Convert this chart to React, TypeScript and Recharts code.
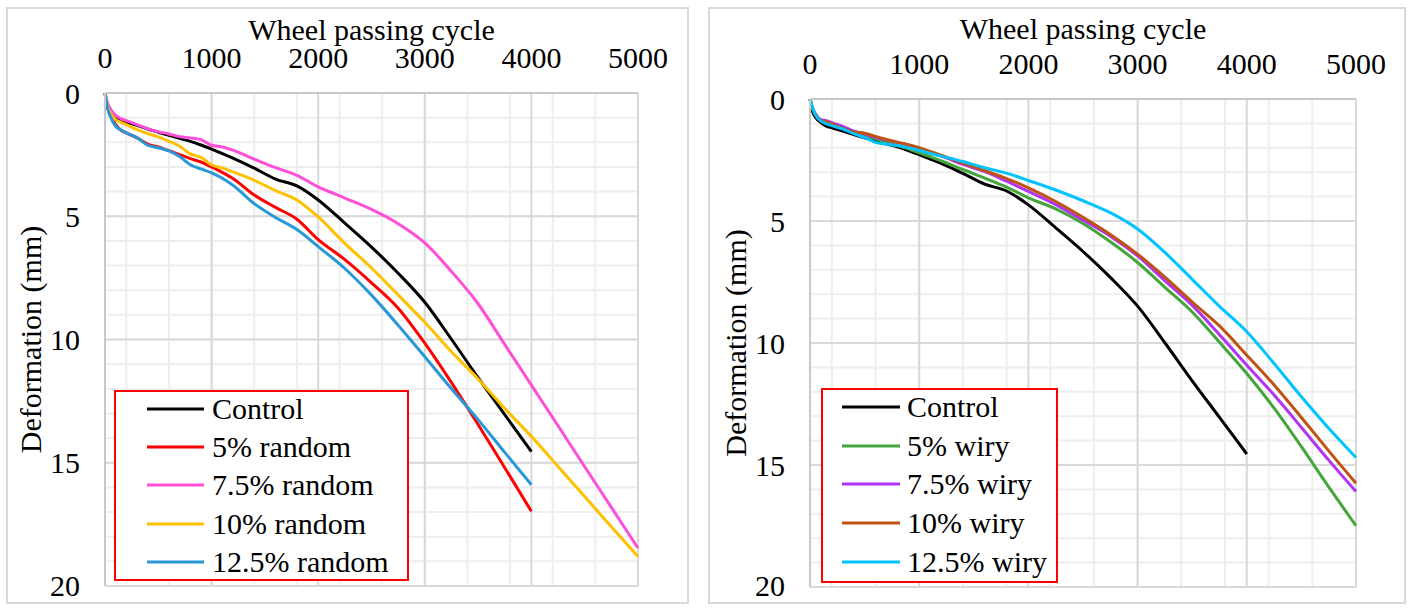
import React from 'react';
import { LineChart, Line, XAxis, YAxis, CartesianGrid, Legend, Label } from 'recharts';

// wheel passing cycles shared by every series
const cycles = [0, 25, 50, 100, 150, 200, 300, 400, 500, 600, 700, 800, 900, 1000, 1100, 1200, 1400, 1600, 1800, 2000, 2250, 2500, 2750, 3000, 3250, 3500, 3750, 4000, 4250, 4500, 4750, 5000];

// deformation (mm)
const control = [0, 0.54, 0.74, 0.97, 1.11, 1.18, 1.31, 1.46, 1.59, 1.72, 1.84, 1.96, 2.11, 2.28, 2.46, 2.64, 3.05, 3.49, 3.77, 4.34, 5.28, 6.25, 7.31, 8.49, 9.99, 11.55, 13.05, 14.55, null, null, null, null];
const random5 = [0, 0.61, 0.88, 1.28, 1.51, 1.62, 1.82, 2.07, 2.19, 2.34, 2.5, 2.66, 2.8, 3.0, 3.22, 3.47, 4.14, 4.64, 5.12, 5.95, 6.76, 7.7, 8.73, 10.15, 11.75, 13.45, 15.2, 16.97, null, null, null, null];
const random75 = [0, 0.41, 0.64, 0.91, 1.04, 1.12, 1.28, 1.45, 1.57, 1.66, 1.77, 1.82, 1.89, 2.12, 2.19, 2.32, 2.68, 3.03, 3.34, 3.81, 4.26, 4.72, 5.3, 6.08, 7.24, 8.55, 10.2, 11.85, 13.5, 15.16, 16.81, 18.46];
const random10 = [0, 0.54, 0.81, 1.08, 1.19, 1.28, 1.49, 1.65, 1.78, 1.96, 2.16, 2.47, 2.61, 2.92, 3.04, 3.2, 3.54, 3.96, 4.34, 5.03, 6.1, 7.1, 8.19, 9.3, 10.5, 11.6, 12.8, 13.93, 15.15, 16.37, 17.6, 18.8];
const random125 = [0, 0.64, 0.95, 1.35, 1.5, 1.62, 1.81, 2.12, 2.22, 2.35, 2.58, 2.91, 3.08, 3.24, 3.46, 3.74, 4.49, 5.05, 5.54, 6.23, 7.12, 8.2, 9.42, 10.7, 12.0, 13.25, 14.58, 15.89, null, null, null, null];

const wiry5 = [0, 0.41, 0.67, 0.87, 0.97, 1.02, 1.2, 1.38, 1.5, 1.63, 1.77, 1.91, 2.04, 2.21, 2.36, 2.53, 2.89, 3.24, 3.61, 4.05, 4.5, 5.1, 5.85, 6.7, 7.72, 8.73, 9.97, 11.25, 12.67, 14.25, 15.9, 17.49];
const wiry75 = [0, 0.41, 0.62, 0.85, 0.89, 0.97, 1.12, 1.31, 1.44, 1.57, 1.68, 1.78, 1.89, 2.07, 2.21, 2.34, 2.68, 2.98, 3.37, 3.79, 4.33, 4.97, 5.62, 6.43, 7.45, 8.46, 9.66, 10.91, 12.13, 13.46, 14.8, 16.09];
const wiry10 = [0, 0.41, 0.62, 0.87, 0.95, 1.02, 1.2, 1.35, 1.4, 1.53, 1.66, 1.77, 1.87, 2.0, 2.15, 2.3, 2.63, 2.94, 3.26, 3.64, 4.2, 4.85, 5.55, 6.36, 7.3, 8.32, 9.3, 10.5, 11.72, 13.05, 14.42, 15.75];
const wiry125 = [0, 0.37, 0.64, 0.91, 1.02, 1.09, 1.23, 1.42, 1.58, 1.78, 1.85, 1.91, 2.0, 2.11, 2.23, 2.34, 2.56, 2.82, 3.04, 3.34, 3.73, 4.17, 4.66, 5.33, 6.29, 7.39, 8.5, 9.54, 10.84, 12.2, 13.49, 14.69];

const xTicks = [0, 1000, 2000, 3000, 4000, 5000];
const xMinorTicks = [0, 200, 400, 600, 800, 1000, 1200, 1400, 1600, 1800, 2000, 2200, 2400, 2600, 2800, 3000, 3200, 3400, 3600, 3800, 4000, 4200, 4400, 4600, 4800, 5000];
const yTicks = [0, 5, 10, 15, 20];
const yMinorTicks = [0, 1, 2, 3, 4, 5, 6, 7, 8, 9, 10, 11, 12, 13, 14, 15, 16, 17, 18, 19, 20];

const FONT = '"Liberation Serif", "DejaVu Serif"';

type Series = { key: string; name: string; color: string; values: (number | null)[] };

const randomSeries: Series[] = [
  { key: 'control', name: 'Control', color: '#000000', values: control },
  { key: 'r5', name: '5% random', color: '#ff0000', values: random5 },
  { key: 'r75', name: '7.5% random', color: '#ff4fd8', values: random75 },
  { key: 'r10', name: '10% random', color: '#ffc000', values: random10 },
  { key: 'r125', name: '12.5% random', color: '#2898d8', values: random125 },
];

const wirySeries: Series[] = [
  { key: 'control', name: 'Control', color: '#000000', values: control },
  { key: 'w5', name: '5% wiry', color: '#44a63a', values: wiry5 },
  { key: 'w75', name: '7.5% wiry', color: '#b233f5', values: wiry75 },
  { key: 'w10', name: '10% wiry', color: '#bf5412', values: wiry10 },
  { key: 'w125', name: '12.5% wiry', color: '#00c3ff', values: wiry125 },
];

const buildRows = (series: Series[]) =>
  cycles.map((cycle, i) => {
    const row: Record<string, number | null> = { cycle };
    series.forEach((s) => {
      row[s.key] = s.values[i];
    });
    return row;
  });

interface LegendBox {
  left: number;
  top: number;
  width: number;
  height: number;
  lineX1: number;
  lineX2: number;
  textX: number;
  firstRow: number;
  rowGap: number;
}

interface PanelProps {
  series: Series[];
  boxLeft: number;
  boxWidth: number;
  margin: { top: number; right: number; bottom: number; left: number };
  titleGap: number;
  legend: LegendBox;
}

const Panel: React.FC<PanelProps> = ({ series, boxLeft, boxWidth, margin, titleGap, legend }) => {
  const data = buildRows(series);
  const chartW = boxWidth - 4;
  const chartH = 593;
  const order = (item: any) => series.findIndex((s) => s.key === item.dataKey);

  const renderLegend = (props: any) => {
    const payload = [...(props.payload || [])].sort((a, b) => order(a) - order(b));
    return (
      <div
        style={{
          position: 'relative',
          boxSizing: 'border-box',
          width: legend.width,
          height: legend.height,
          border: '2px solid #ff0000',
          background: '#ffffff',
          fontFamily: FONT,
        }}
      >
        {payload.map((item: any, i: number) => {
          const cy = legend.firstRow + i * legend.rowGap - 2;
          return (
            <div key={item.value} style={{ position: 'absolute', left: 0, top: cy - 20, height: 40, width: '100%' }}>
              <svg width={legend.lineX2} height={40} style={{ position: 'absolute', left: 0, top: 0 }}>
                <line x1={legend.lineX1 - 2} x2={legend.lineX2 - 2} y1={20} y2={20} stroke={item.color} strokeWidth={3} />
              </svg>
              <span
                style={{
                  position: 'absolute',
                  left: legend.textX - 2,
                  top: 0,
                  fontSize: 30,
                  fontFamily: FONT,
                  color: '#000',
                  lineHeight: '40px',
                  whiteSpace: 'nowrap',
                }}
              >
                {item.value}
              </span>
            </div>
          );
        })}
      </div>
    );
  };

  return (
    <div
      style={{
        position: 'absolute',
        left: boxLeft,
        top: 7,
        width: boxWidth,
        height: 597,
        border: '2px solid #d9d9d9',
        boxSizing: 'border-box',
        background: '#ffffff',
        fontFamily: FONT,
      }}
    >
      <LineChart width={chartW} height={chartH} data={data} margin={margin} style={{ fontFamily: FONT }}>
        <CartesianGrid stroke="#eeeeee" strokeWidth={2} verticalValues={xMinorTicks} horizontalValues={yMinorTicks} />
        <CartesianGrid stroke="#d9d9d9" strokeWidth={2} verticalValues={xTicks} horizontalValues={yTicks} />
        <XAxis
          type="number"
          dataKey="cycle"
          orientation="top"
          domain={[0, 5000]}
          ticks={xTicks}
          height={50}
          tickLine={false}
          tickSize={0}
          tickMargin={25}
          axisLine={{ stroke: '#c8c8c8', strokeWidth: 2 }}
          tick={{ fill: '#000', fontSize: 30, fontFamily: FONT }}
        >
          <Label
            content={(p: any) => {
              const vb = p.viewBox;
              return (
                <text
                  x={vb.x + vb.width / 2}
                  y={vb.y + vb.height - titleGap}
                  textAnchor="middle"
                  fontSize={30}
                  fontFamily={FONT}
                  fill="#000"
                >
                  Wheel passing cycle
                </text>
              );
            }}
          />
        </XAxis>
        <YAxis
          type="number"
          domain={[0, 20]}
          reversed
          ticks={yTicks}
          width={60}
          tickLine={false}
          tickSize={0}
          tickMargin={25}
          axisLine={{ stroke: '#c8c8c8', strokeWidth: 2 }}
          tick={{ fill: '#000', fontSize: 30, fontFamily: FONT }}
        >
          <Label
            content={(p: any) => {
              const vb = p.viewBox;
              const x = vb.x + vb.width - 64;
              const y = vb.y + vb.height / 2;
              return (
                <text
                  x={x}
                  y={y}
                  transform={`rotate(-90 ${x} ${y})`}
                  textAnchor="middle"
                  fontSize={30}
                  fontFamily={FONT}
                  fill="#000"
                >
                  Deformation (mm)
                </text>
              );
            }}
          />
        </YAxis>
        <Legend
          layout="vertical"
          align="center"
          verticalAlign="middle"
          wrapperStyle={{ left: legend.left, top: legend.top, width: legend.width, height: legend.height }}
          content={renderLegend}
        />
        {series.map((s) => (
          <Line
            key={s.key}
            type="monotone"
            dataKey={s.key}
            name={s.name}
            stroke={s.color}
            strokeWidth={3}
            dot={false}
            activeDot={false}
            isAnimationActive={false}
          />
        ))}
      </LineChart>
    </div>
  );
};

export default function App() {
  return (
    <div style={{ position: 'absolute', left: 0, top: 0, width: 1411, height: 610, background: '#ffffff' }}>
      <Panel
        series={randomSeries}
        boxLeft={6}
        boxWidth={683}
        margin={{ top: 34, right: 49, bottom: 16, left: 37 }}
        titleGap={53}
        legend={{ left: 106, top: 381, width: 295, height: 191, lineX1: 33, lineX2: 90, textX: 98, firstRow: 19, rowGap: 38.2 }}
      />
      <Panel
        series={wirySeries}
        boxLeft={708}
        boxWidth={698}
        margin={{ top: 40, right: 48, bottom: 15, left: 40 }}
        titleGap={60}
        legend={{ left: 111, top: 379, width: 237, height: 195, lineX1: 21, lineX2: 79, textX: 86, firstRow: 19, rowGap: 38.7 }}
      />
    </div>
  );
}
